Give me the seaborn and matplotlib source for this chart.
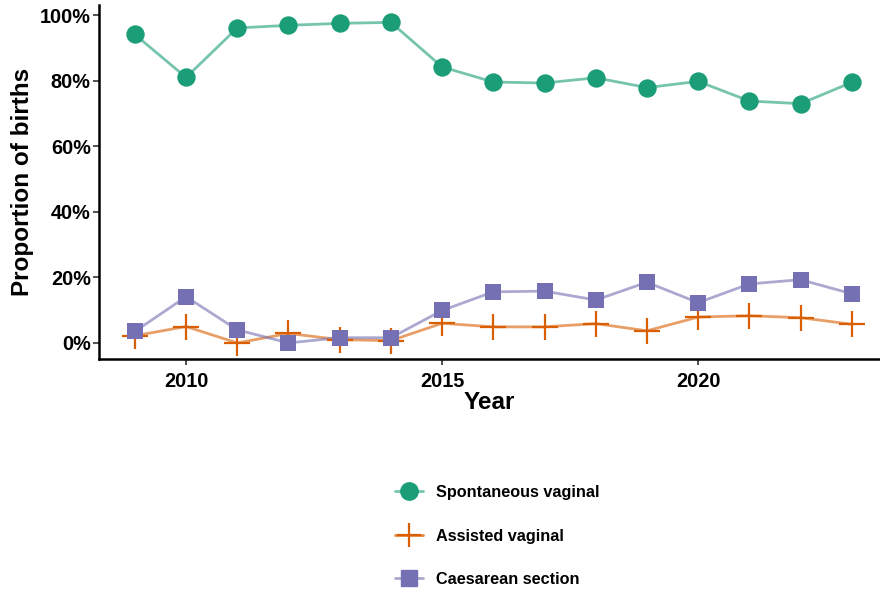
import matplotlib
matplotlib.use("Agg")
import matplotlib.pyplot as plt
from matplotlib.lines import Line2D
from matplotlib.ticker import FuncFormatter
from matplotlib.colors import to_rgb
import seaborn as sns
import pandas as pd

years = list(range(2009, 2024))
spontaneous = [94.1, 81.0, 96.1, 96.9, 97.5, 97.8, 84.2, 79.6, 79.3, 80.9, 77.9, 79.8, 73.8, 73.0, 79.5]
assisted = [2.2, 5.0, 0.0, 2.9, 1.0, 0.7, 6.0, 4.9, 4.9, 5.9, 3.7, 7.9, 8.3, 7.7, 5.7]
caesarean = [3.5, 14.1, 4.0, 0.0, 1.6, 1.6, 9.9, 15.6, 15.8, 13.1, 18.5, 12.3, 18.0, 19.3, 15.0]
series_names = ["Spontaneous vaginal", "Assisted vaginal", "Caesarean section"]
colors = ["#1B9E77", "#D95F02", "#7570B3"]
markers = ["o", "+", "s"]
msizes = [175, 330, 125]
x_ticks = [2010, 2015, 2020]

sns.set_theme(style="white")
plt.rcParams['font.family'] = ['Liberation Sans', 'DejaVu Sans']
plt.rcParams['font.weight'] = 'bold'
plt.rcParams['text.color'] = 'black'

df = pd.DataFrame({
    "Year": years * 3,
    "Value": [v / 100 for v in spontaneous + assisted + caesarean],
    "Type": [series_names[0]] * 15 + [series_names[1]] * 15 + [series_names[2]] * 15,
})

fig = plt.figure(figsize=(8.8, 5.9), dpi=100)
ax = fig.add_axes([99 / 880, 231 / 590, 781 / 880, 354 / 590])

for name, c, m, s in zip(series_names, colors, markers, msizes):
    d = df[df["Type"] == name]
    sns.lineplot(data=d, x="Year", y="Value", color=c, alpha=0.6, linewidth=2, ax=ax)
    if m == "+":
        sns.scatterplot(data=d, x="Year", y="Value", color=c, marker=m, s=s, linewidth=1.6, ax=ax, zorder=3)
    else:
        sns.scatterplot(data=d, x="Year", y="Value", color=c, marker=m, s=s, linewidth=0, ax=ax, zorder=3)

ax.set_xlim(2008.3, 2023.55)
ax.set_ylim(-0.049, 1.031)
ax.set_xticks(x_ticks)
ax.set_yticks([0, 0.2, 0.4, 0.6, 0.8, 1.0])
ax.yaxis.set_major_formatter(FuncFormatter(lambda v, p: f"{v*100:.0f}%"))
ax.tick_params(axis="both", labelsize=14.3, length=4, width=1.2, color="#333333", left=True, bottom=True)
ax.tick_params(axis="x", pad=5.5)
ax.tick_params(axis="y", pad=2)
for lbl in ax.get_xticklabels() + ax.get_yticklabels():
    lbl.set_fontweight("bold")
    lbl.set_color("black")
ax.set_xlabel("Year", fontsize=17.5, fontweight="bold", labelpad=0, color="black")
ax.set_ylabel("Proportion of births", fontsize=17.5, fontweight="bold", labelpad=4, color="black")
for sp in ["top", "right"]:
    ax.spines[sp].set_visible(False)
for sp in ["left", "bottom"]:
    ax.spines[sp].set_linewidth(1.8)
    ax.spines[sp].set_color("black")
ax.grid(False)


def lighten(c, a=0.6):
    r, g, b = to_rgb(c)
    return (r * a + (1 - a), g * a + (1 - a), b * a + (1 - a))


handles = []
for c, m in zip(colors, markers):
    if m == "+":
        h = Line2D([0], [0], color=lighten(c, 0.75), linewidth=2, marker=m, markersize=17,
                   markeredgewidth=1.6, markeredgecolor=c)
    else:
        h = Line2D([0], [0], color=lighten(c), linewidth=2, marker=m,
                   markersize=12.5 if m == "o" else 11, markerfacecolor=c, markeredgecolor=c)
    handles.append(h)
leg = fig.legend(handles, series_names, loc="center", bbox_to_anchor=(497 / 880, 1 - 536 / 590),
                 frameon=False, prop={"weight": "bold", "size": 11.7}, labelspacing=1.75,
                 handlelength=1.75, handletextpad=0.75)
for t in leg.get_texts():
    t.set_color("black")

fig.savefig("out.png", dpi=100)
